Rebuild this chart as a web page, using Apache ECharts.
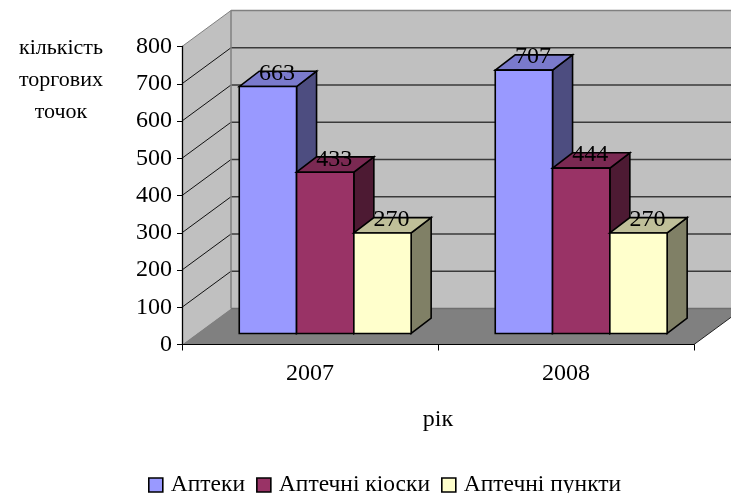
<!DOCTYPE html>
<html>
<head>
<meta charset="utf-8">
<style>html,body{margin:0;padding:0;background:#fff}#main{width:731px;height:493px}</style>
<script src="https://cdn.jsdelivr.net/npm/echarts@6/dist/echarts.min.js"></script>
</head>
<body>
<div id="main"></div>
<script>
// values
const categories = ['2007', '2008'];
const apteky = [663, 707];
const kiosky = [433, 444];
const punkty = [270, 270];
const yTicks = [0, 100, 200, 300, 400, 500, 600, 700, 800];

const serif = '"Liberation Serif", "Times New Roman", serif';
const fontSize = 24;

// fake 3D look: wall depth and bar depth in pixels
const wallDx = 49, wallDy = 36;
const barDx = 20, barDy = 15.3;
const barW = 57.3, barShiftX = 15.2, barShiftY = 11;

const myChart = echarts.init(document.getElementById('main'));

function poly(points, fill, stroke, lw) {
  return {
    type: 'polygon',
    shape: { points: points },
    style: { fill: fill, stroke: stroke, lineWidth: lw }
  };
}

function seg(x1, y1, x2, y2, stroke, lw) {
  return {
    type: 'line',
    shape: { x1: x1, y1: y1, x2: x2, y2: y2 },
    style: { stroke: stroke, lineWidth: lw, fill: null }
  };
}

function renderWalls(params, api) {
  const cs = params.coordSys;
  const l = cs.x, r = cs.x + cs.width, t = cs.y, b = cs.y + cs.height;
  const kids = [
    poly([[l, b], [l + wallDx, b - wallDy], [l + wallDx, t - wallDy], [l, t]], '#c0c0c0', null, 0),
    poly([[l + wallDx, b - wallDy], [r + wallDx, b - wallDy], [r + wallDx, t - wallDy], [l + wallDx, t - wallDy]], '#c0c0c0', null, 0),
    poly([[l, b], [r, b], [r + wallDx, b - wallDy], [l + wallDx, b - wallDy]], '#808080', null, 0)
  ];
  yTicks.forEach(function (v) {
    const y = api.coord([0, v])[1];
    if (v === 800) {
      kids.push(seg(l, y, l + wallDx, y - wallDy, '#808080', 1));
      kids.push(seg(l + wallDx, y - wallDy, r + wallDx, y - wallDy, '#808080', 1.5));
    } else if (v === 0) {
      kids.push(seg(l + wallDx, y - wallDy, r + wallDx, y - wallDy, '#6e6e6e', 1.5));
    } else {
      kids.push(seg(l, y, l + wallDx, y - wallDy, '#111', 1));
      kids.push(seg(l + wallDx, y - wallDy, r + wallDx, y - wallDy, '#3a3a3a', 1.5));
    }
  });
  kids.push(seg(l + wallDx, t - wallDy, l + wallDx, b - wallDy, '#808080', 1.5));
  kids.push(seg(r, b, r + wallDx, b - wallDy, '#222', 1));
  return { type: 'group', children: kids };
}

function makeBarRender(slot, front, top, side) {
  return function (params, api) {
    const cat = api.value(0), val = api.value(1);
    const cx = api.coord([cat, 0])[0] + barShiftX + slot * barW;
    const y1 = api.coord([cat, 0])[1] - barShiftY;
    const y0 = api.coord([cat, val])[1] - barShiftY;
    const x0 = cx - barW / 2, x1 = cx + barW / 2;
    const k = '#000';
    return {
      type: 'group',
      children: [
        poly([[x1, y0], [x1 + barDx, y0 - barDy], [x1 + barDx, y1 - barDy], [x1, y1]], side, k, 1.6),
        poly([[x0, y0], [x0 + barDx, y0 - barDy], [x1 + barDx, y0 - barDy], [x1, y0]], top, k, 1.6),
        poly([[x0, y0], [x1, y0], [x1, y1], [x0, y1]], front, k, 1.6),
        {
          type: 'text',
          style: {
            x: cx + 9, y: y0 - 13,
            text: String(val),
            fill: '#000',
            font: fontSize + 'px ' + serif,
            align: 'center',
            verticalAlign: 'middle'
          }
        }
      ]
    };
  };
}

function barSeries(name, values, slot, front, top, side) {
  return {
    name: name,
    type: 'custom',
    itemStyle: { color: front },
    renderItem: makeBarRender(slot, front, top, side),
    encode: { x: 0, y: 1 },
    data: values.map(function (v, i) { return [i, v]; })
  };
}

myChart.setOption({
  animation: false,
  backgroundColor: '#fff',
  textStyle: { fontFamily: serif },
  grid: { left: 182, right: 37, top: 46.5, height: 298 },
  legend: {
    left: 143,
    top: 468,
    icon: 'rect',
    itemWidth: 14,
    itemHeight: 14,
    itemGap: 11,
    itemStyle: { borderColor: '#000', borderWidth: 1.6 },
    textStyle: { fontFamily: serif, fontSize: 23.5, color: '#000', padding: [0, 0, 0, 3] },
    data: ['Аптеки', 'Аптечні кіоски', 'Аптечні пункти']
  },
  xAxis: {
    type: 'category',
    data: categories,
    name: 'рік',
    nameLocation: 'middle',
    nameGap: 63,
    nameTextStyle: { fontFamily: serif, fontSize: fontSize, color: '#000' },
    axisLine: { show: true, lineStyle: { color: '#000', width: 1 } },
    axisTick: { show: true, alignWithLabel: false, length: 6, lineStyle: { color: '#000' } },
    axisLabel: { fontFamily: serif, fontSize: fontSize, color: '#000', margin: 17 },
    splitLine: { show: false }
  },
  yAxis: {
    type: 'value',
    min: 0,
    max: 800,
    interval: 100,
    axisLine: { show: true, lineStyle: { color: '#000', width: 1.3 } },
    axisTick: { show: true, length: 5, lineStyle: { color: '#000' } },
    axisLabel: { fontFamily: serif, fontSize: fontSize, color: '#000', margin: 10 },
    splitLine: { show: false }
  },
  graphic: [
    {
      type: 'text',
      x: 61,
      y: 32,
      style: {
        text: 'кількість\nторгових\nточок',
        font: '22px ' + serif,
        lineHeight: 32,
        align: 'center',
        fill: '#000'
      }
    }
  ],
  series: [
    {
      type: 'custom',
      silent: true,
      z: 0,
      renderItem: renderWalls,
      encode: { x: 0, y: 1 },
      data: [[0, 0]]
    },
    barSeries('Аптеки', apteky, -1, '#9999ff', '#7a7acc', '#4d4d80'),
    barSeries('Аптечні кіоски', kiosky, 0, '#993366', '#7a2952', '#4d1a33'),
    barSeries('Аптечні пункти', punkty, 1, '#ffffcc', '#bfbf99', '#808066')
  ]
});
</script>
</body>
</html>
